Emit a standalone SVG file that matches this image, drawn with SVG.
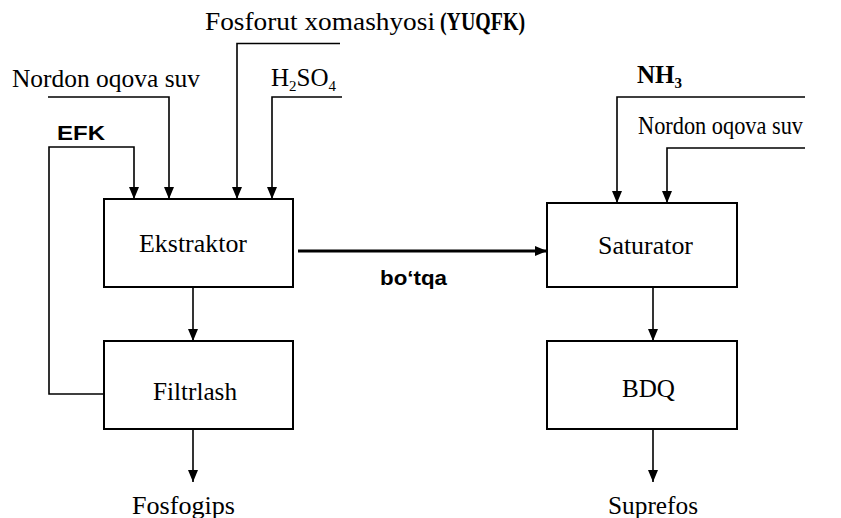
<svg xmlns="http://www.w3.org/2000/svg" width="841" height="518" viewBox="0 0 841 518">
<style>
.box{fill:#fff;stroke:#000;stroke-width:2}
.t{font-family:"Liberation Serif","Times New Roman",serif;font-size:25px;fill:#000}
.b{font-weight:bold}
.s{font-family:"Liberation Sans",Arial,sans-serif;font-size:21px;font-weight:bold;fill:#000}
.c{fill:none;stroke:#000;stroke-width:1.6}
.thick{stroke-width:3}
</style>
<defs>
<marker id="ah" viewBox="0 0 12 10" refX="12" refY="5" markerWidth="12" markerHeight="10" markerUnits="userSpaceOnUse" orient="auto">
<path d="M0,0 L12,5 L0,10 z" fill="#000"/>
</marker>
</defs>
<rect width="841" height="518" fill="#fff"/>
<g id="connectors">
<path class="c" d="M340,43.5 H237 V199" marker-end="url(#ah)"/>
<path class="c" d="M342,97 H272 V199" marker-end="url(#ah)"/>
<path class="c" d="M48,97 H169 V199" marker-end="url(#ah)"/>
<path class="c" d="M104,394 H49 V147 H134 V199" marker-end="url(#ah)"/>
<path class="c" d="M193,287 V341" marker-end="url(#ah)"/>
<path class="c" d="M193,429 V482" marker-end="url(#ah)"/>
<path class="c thick" d="M298,251 H547" marker-end="url(#ah)"/>
<path class="c" d="M805,97 H617 V203" marker-end="url(#ah)"/>
<path class="c" d="M805,148 H667 V203" marker-end="url(#ah)"/>
<path class="c" d="M653,287 V341" marker-end="url(#ah)"/>
<path class="c" d="M653,429 V482" marker-end="url(#ah)"/>
</g>
<g id="labels">
<text class="t" x="205" y="30" font-size="23" textLength="230" lengthAdjust="spacingAndGlyphs">Fosforut xomashyosi</text>
<text class="t b" x="440" y="30" font-size="23" textLength="85" lengthAdjust="spacingAndGlyphs">(YUQFK)</text>
<text class="t" x="12" y="87" textLength="188" lengthAdjust="spacingAndGlyphs">Nordon oqova suv</text>
<text class="t" x="271" y="86">H<tspan font-size="15" dy="5">2</tspan><tspan dy="-5">SO</tspan><tspan font-size="15" dy="5">4</tspan></text>
<text class="s" x="57" y="140" textLength="48" lengthAdjust="spacingAndGlyphs">EFK</text>
<text class="s" x="380" y="285" textLength="67" lengthAdjust="spacingAndGlyphs">bo‘tqa</text>
<text class="t b" x="637" y="83">NH<tspan font-size="15" dy="5">3</tspan></text>
<text class="t" x="638" y="134" textLength="165" lengthAdjust="spacingAndGlyphs">Nordon oqova suv</text>
<text class="t" x="132" y="514" textLength="103" lengthAdjust="spacingAndGlyphs">Fosfogips</text>
<text class="t" x="608" y="514" textLength="90" lengthAdjust="spacingAndGlyphs">Suprefos</text>
</g>
<g id="ekstraktor">
<rect class="box" x="104" y="199" width="189" height="88"/>
<text class="t" x="139" y="252" textLength="108" lengthAdjust="spacingAndGlyphs">Ekstraktor</text>
</g>
<g id="filtrlash">
<rect class="box" x="104" y="341" width="189" height="88"/>
<text class="t" x="153" y="400" textLength="84" lengthAdjust="spacingAndGlyphs">Filtrlash</text>
</g>
<g id="saturator">
<rect class="box" x="547" y="203" width="190" height="84"/>
<text class="t" x="598" y="254" textLength="95" lengthAdjust="spacingAndGlyphs">Saturator</text>
</g>
<g id="bdq">
<rect class="box" x="547" y="341" width="190" height="88"/>
<text class="t" x="622" y="397" textLength="53" lengthAdjust="spacingAndGlyphs">BDQ</text>
</g>
</svg>
